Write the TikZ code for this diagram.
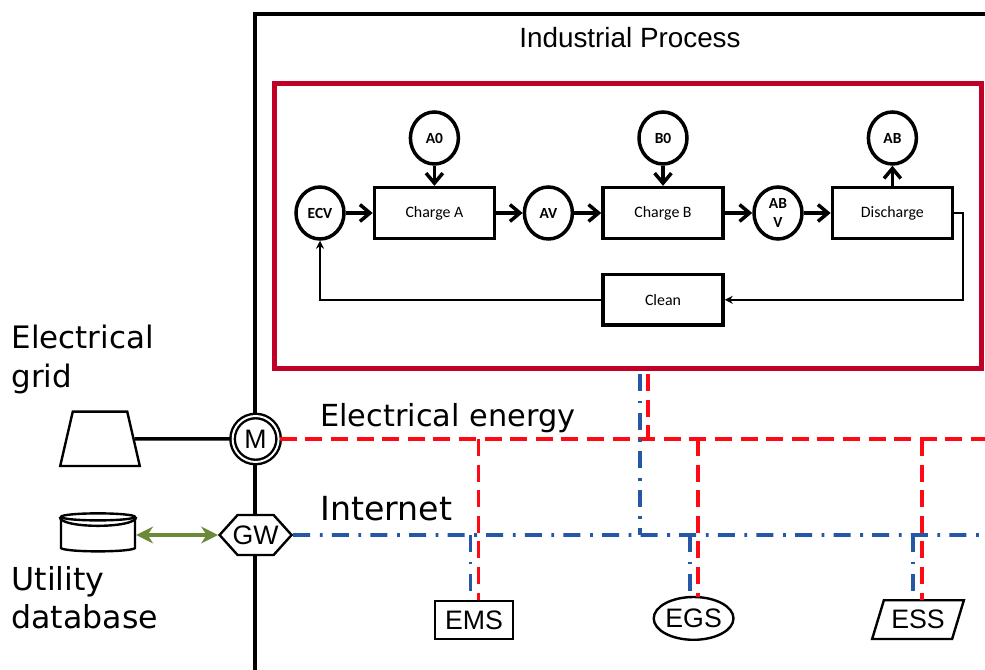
\documentclass[tikz,border=0pt]{standalone}
\usepackage{fontspec}
\setmainfont{DejaVu Sans}
\newfontfamily\arialfont{Liberation Sans}
\newfontfamily\calibrifont{Carlito}
\usepackage{tikz}
\usetikzlibrary{arrows.meta,shapes.geometric,shapes.symbols}
\definecolor{boxred}{HTML}{C00027}
\definecolor{busred}{HTML}{FF0A14}
\definecolor{busblue}{HTML}{2457A6}
\definecolor{dbgreen}{HTML}{6A8A3A}
\tikzset{
  biglabel/.style={font=\fontsize{22}{28}\selectfont,anchor=west,align=left,inner sep=0pt},
  device/.style={draw=black,fill=white,line width=0.06cm,inner sep=1pt,font=\arialfont\fontsize{19}{22}\selectfont},
  stepbox/.style={draw=black,line width=0.0875cm,minimum width=3cm,minimum height=1.27cm,inner sep=0pt,font=\calibrifont\fontsize{11.3}{13}\selectfont},
  tank/.style={draw=black,shape=ellipse,line width=0.0875cm,minimum width=1.2cm,minimum height=1.3cm,inner sep=0pt,align=center,font=\calibrifont\bfseries\fontsize{11}{14}\selectfont},
  thick flow/.style={line width=0.0875cm,-{Straight Barb[length=0.25cm,width=0.42cm]}},
  thin flow/.style={line width=0.04cm,-{Stealth[length=0.2cm,width=0.2cm]}},
  energy/.style={draw=busred,line width=0.095cm,dash pattern=on 0.425cm off 0.215cm},
  internet/.style={draw=busblue,line width=0.095cm,dash pattern=on 0.425cm off 0.24cm on 0.07cm off 0.23cm},
}
\begin{document}
\begin{tikzpicture}
\useasboundingbox (0cm,0cm) rectangle (24.625cm,-16.75cm);
\coordinate (framebottom) at (6.375cm,-16.75cm);
\coordinate (framecorner) at (6.375cm,-0.35cm);
\coordinate (frameright) at (24.625cm,-0.35cm);
\coordinate (busend) at (24.625cm,-10.975cm);
\coordinate (netend) at (24.625cm,-13.375cm);
\coordinate (redup) at (16.2cm,-9.35cm);
\coordinate (blueup) at (16cm,-9.35cm);
\coordinate (emsred) at (11.96cm,-15cm);
\coordinate (emsblue) at (11.76cm,-15cm);
\coordinate (egsred) at (17.44cm,-14.93cm);
\coordinate (egsblue) at (17.24cm,-14.93cm);
\coordinate (essred) at (23.04cm,-15cm);
\coordinate (essblue) at (22.82cm,-15cm);
% outer frame
\draw[black,line width=0.0875cm] (framebottom) -- (framecorner) -- (frameright);
\node[inner sep=0pt,font=\arialfont\fontsize{19.8}{24}\selectfont] (title) at (15.75cm,-0.95cm) {Industrial Process};
\node[draw=boxred,line width=0.125cm,minimum width=17.675cm,minimum height=7.1cm] (processbox) at (15.71cm,-5.65cm) {};
% process steps
\node[tank] (ecv) at (8cm,-5.325cm) {ECV};
\node[stepbox] (chargea) at (10.86cm,-5.325cm) {Charge A};
\node[tank] (av) at (13.71cm,-5.325cm) {AV};
\node[stepbox] (chargeb) at (16.575cm,-5.325cm) {Charge B};
\node[tank] (abv) at (19.45cm,-5.325cm) {AB\\V};
\node[stepbox] (discharge) at (22.31cm,-5.325cm) {Discharge};
\node[tank] (azero) at (10.86cm,-3.45cm) {A0};
\node[tank] (bzero) at (16.575cm,-3.45cm) {B0};
\node[tank] (about) at (22.31cm,-3.45cm) {AB};
\node[stepbox] (clean) at (16.575cm,-7.495cm) {Clean};
\coordinate (dischargeturn) at (24.08cm,-5.325cm);
\draw[thick flow] (ecv) -- (chargea);
\draw[thick flow] (chargea) -- (av);
\draw[thick flow] (av) -- (chargeb);
\draw[thick flow] (chargeb) -- (abv);
\draw[thick flow] (abv) -- (discharge);
\draw[thick flow] (azero) -- (chargea);
\draw[thick flow] (bzero) -- (chargeb);
\draw[thick flow] (discharge) -- (about);
\draw[thin flow] (discharge.east) -- (dischargeturn) |- (clean.east);
\draw[thin flow] (clean.west) -| (ecv.south);
% field devices
\node[device,shape=circle,double,line width=0.06cm,double distance=0.05cm,inner sep=0pt,minimum size=1.15cm] (meter) at (6.39cm,-10.975cm) {M};
\node[device,shape=signal,signal to=west and east,signal pointer angle=96,inner sep=0pt,minimum width=1.8cm,minimum height=1cm] (gateway) at (6.39cm,-13.375cm) {\makebox[0pt]{GW}};
\node[device,shape=trapezium,trapezium left angle=77,trapezium right angle=77,minimum width=2cm,minimum height=1.3cm] (grid) at (2.5cm,-10.97cm) {};
\node[device,shape=cylinder,shape border rotate=90,aspect=2.5,minimum width=1.85cm,minimum height=0.95cm] (database) at (2.45cm,-13.38cm) {};
\draw[black,line width=0.06cm] (database.before top) to[out=-90,in=-90,looseness=0.4] (database.after top);
\node[device,minimum width=1.95cm,minimum height=0.96cm] (ems) at (11.85cm,-15.5cm) {EMS};
\node[device,shape=ellipse,inner sep=0pt,minimum width=1.82cm,minimum height=1.07cm] (egs) at (17.34cm,-15.46cm) {EGS};
\node[device,shape=trapezium,trapezium left angle=64,trapezium right angle=116,trapezium stretches=true,inner sep=0pt,minimum width=2.3cm,minimum height=0.97cm] (ess) at (22.95cm,-15.49cm) {ESS};
\draw[black,line width=0.0875cm] (grid.east) -- (meter);
\draw[energy] (meter) -- (busend);
\draw[internet] (gateway) -- (netend);
\draw[energy] (redup) -- (redup |- meter);
\draw[internet] (blueup) -- (blueup |- gateway);
\draw[energy] (emsred |- meter) -- (emsred);
\draw[internet] (emsblue |- gateway) -- (emsblue);
\draw[energy] (egsred |- meter) -- (egsred);
\draw[internet] (egsblue |- gateway) -- (egsblue);
\draw[energy] (essred |- meter) -- (essred);
\draw[internet] (essblue |- gateway) -- (essblue);
\draw[dbgreen,line width=0.09cm,{Stealth[length=0.42cm,width=0.42cm]}-{Stealth[length=0.42cm,width=0.42cm]}] (database.east |- gateway) -- (gateway.west);
% labels
\node[biglabel] (gridlabel) at (0.28cm,-8.98cm) {Electrical\\grid};
\node[biglabel,font=\fontsize{22.5}{27.5}\selectfont] (dblabel) at (0.28cm,-14.94cm) {Utility\\database};
\node[biglabel,font=\fontsize{21.6}{28}\selectfont] (energylabel) at (8cm,-10.45cm) {Electrical energy};
\node[biglabel,font=\fontsize{23.6}{28}\selectfont] (netlabel) at (8cm,-12.72cm) {Internet};
\end{tikzpicture}
\end{document}
